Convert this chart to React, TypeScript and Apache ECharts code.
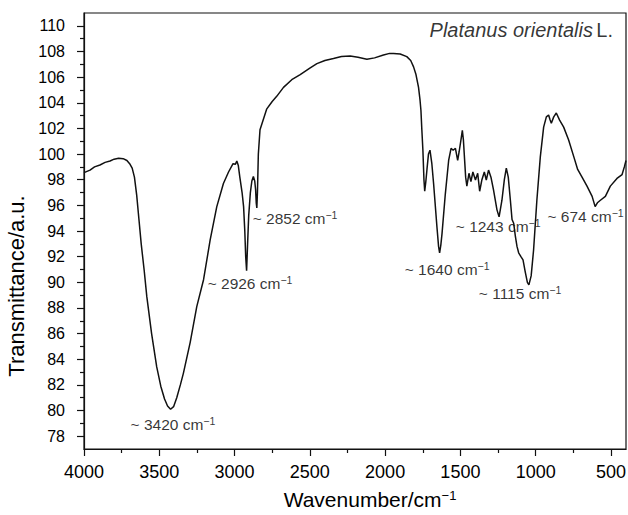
import React, { useEffect, useRef } from "react";
import * as echarts from "echarts";

// Spectrum (wavenumber in cm^-1, transmittance in a.u.)
const wavenumbers = [
  4000, 3960, 3930, 3894, 3860, 3827, 3800, 3770, 3740, 3715, 3694, 3680, 3665, 3650, 3635, 3620, 3600, 3583, 3551, 3517,
  3490, 3465, 3445, 3425, 3405, 3384, 3360, 3340, 3295, 3251, 3206, 3162, 3118, 3074, 3040, 3010, 2995, 2985, 2975, 2965,
  2950, 2940, 2932, 2926, 2920, 2914, 2906, 2895, 2885, 2875, 2866, 2860, 2856, 2852, 2848, 2842, 2831, 2809, 2787, 2750,
  2720, 2675, 2620, 2564, 2500, 2453, 2400, 2343, 2290, 2232, 2180, 2121, 2070, 2011, 1970, 1944, 1900, 1856, 1830, 1811,
  1795, 1778, 1768, 1762, 1756, 1749, 1742, 1737, 1730, 1722, 1712, 1702, 1690, 1678, 1656, 1645, 1638, 1630, 1622, 1600,
  1578, 1562, 1548, 1533, 1518, 1508, 1495, 1487, 1480, 1465, 1457, 1443, 1430, 1417, 1400, 1385, 1372, 1357, 1341, 1328,
  1313, 1297, 1280, 1257, 1243, 1224, 1208, 1195, 1182, 1168, 1157, 1146, 1135, 1124, 1113, 1098, 1084, 1069, 1055, 1045,
  1030, 1014, 992, 969, 947, 929, 914, 905, 896, 880, 863, 841, 814, 781, 747, 721, 692, 659, 625, 605,
  590, 570, 537, 504, 460, 426, 411, 400,
];
const transmittance = [
  98.55, 98.75, 99.0, 99.15, 99.35, 99.46, 99.6, 99.68, 99.64, 99.5, 99.2, 98.9, 98.2, 96.8, 94.9, 93.0, 90.9, 88.9, 86.0, 83.4,
  81.9, 80.9, 80.35, 80.1, 80.3, 81.0, 82.0, 82.9, 85.3, 88.1, 90.2, 93.3, 95.9, 97.7, 98.6, 99.25, 99.2, 99.45, 99.1, 98.2,
  97.0, 95.9, 94.0, 92.0, 90.9, 92.8, 95.2, 97.0, 97.9, 98.25, 97.9, 97.2, 96.2, 95.8, 97.0, 100.0, 101.9, 102.7, 103.5, 104.1,
  104.5, 105.2, 105.8, 106.2, 106.7, 107.05, 107.3, 107.45, 107.6, 107.65, 107.55, 107.4, 107.5, 107.72, 107.85, 107.85, 107.8, 107.6, 107.3, 106.8,
  106.2, 105.2, 104.2, 103.4, 101.9, 100.3, 98.0, 97.1, 97.8, 98.8, 100.0, 100.3, 99.3, 97.7, 94.35, 92.8, 92.3, 92.9, 93.8, 96.9,
  99.5, 100.45, 100.3, 100.45, 99.5, 100.2, 101.2, 101.85, 101.1, 98.2, 97.5, 98.5, 97.85, 98.6, 97.98, 98.5, 97.1, 98.0, 98.6, 97.98,
  98.75, 98.2, 97.2, 95.65, 95.1, 96.4, 98.0, 98.9, 98.2, 96.4, 94.9, 94.6, 93.6, 92.8, 92.3, 92.0, 91.75, 90.8, 90.0, 89.8,
  90.5, 92.5, 96.4, 99.8, 102.1, 102.9, 103.05, 102.7, 102.4, 102.9, 103.2, 102.65, 102.1, 101.1, 99.8, 98.8, 98.2, 97.5, 96.7, 95.9,
  96.2, 96.4, 96.7, 97.5, 98.1, 98.4, 99.0, 99.5,
];

// Axis ticks
const xMajorTicks = [4000, 3500, 3000, 2500, 2000, 1500, 1000, 500];
const xMinorTicks = [3750, 3250, 2750, 2250, 1750, 1250, 750];
const yMajorTicks = [78, 80, 82, 84, 86, 88, 90, 92, 94, 96, 98, 100, 102, 104, 106, 108, 110];
const yMinorTicks = [79, 81, 83, 85, 87, 89, 91, 93, 95, 97, 99, 101, 103, 105, 107, 109];

// Peak annotations (anchor = left edge of text)
const peakLabels = ["~ 3420", "~ 2926", "~ 2852", "~ 1640", "~ 1115", "~ 1243", "~ 674"];
const peakLabelX = [3694, 3182, 2883, 1873, 1381, 1534, 925];
const peakLabelY = [78.9, 89.94, 95.0, 90.97, 89.16, 94.35, 95.1];

const FONT = "'Liberation Sans', Arial, Helvetica, sans-serif";
const TEXT = "#000000";

export default function App() {
  const ref = useRef<HTMLDivElement>(null);
  useEffect(() => {
    if (!ref.current) return;
    const chart = echarts.init(ref.current, null, { renderer: "svg" });
    const lineData = wavenumbers.map((w, i) => [w, transmittance[i]]);
    const annData = peakLabels.map((t, i) => ({ value: [peakLabelX[i], peakLabelY[i]], name: t }));
    const supRich = {
      t: { fontSize: 15.5, lineHeight: 18, color: TEXT, fontFamily: FONT },
      s: { fontSize: 10.5, lineHeight: 9, verticalAlign: "top", color: TEXT, fontFamily: FONT },
    };
    const xBase = { type: "value", min: 400, max: 4000, inverse: true, gridIndex: 0 };
    const yBase = { type: "value", min: 77, max: 111, gridIndex: 0 };
    chart.setOption({
      animation: false,
      backgroundColor: "#ffffff",
      grid: {
        left: 84, right: 2, top: 13, bottom: 66,
        show: true, borderColor: "#111", borderWidth: 1.2, backgroundColor: "transparent",
        outerBoundsMode: "none", containLabel: false,
      },
      xAxis: [
        {
          ...xBase,
          position: "bottom",
          name: "Wavenumber/cm{s|−1}",
          nameLocation: "middle",
          nameGap: 40,
          nameTextStyle: {
            fontSize: 21, color: TEXT, fontFamily: FONT, padding: [0, 0, 0, 30],
            rich: {
              s: { fontSize: 13, lineHeight: 11, verticalAlign: "top", color: TEXT, fontFamily: FONT },
            },
          },
          axisLine: { show: true, onZero: false, lineStyle: { color: "#111", width: 1.2 } },
          axisTick: { show: true, length: 7, customValues: xMajorTicks, lineStyle: { color: "#111", width: 1.2 } },
          axisLabel: {
            show: true, customValues: xMajorTicks, margin: 14, fontSize: 18, color: TEXT, fontFamily: FONT,
            formatter: (v: number) => String(v),
          },
          splitLine: { show: false },
        },
        {
          ...xBase,
          position: "bottom",
          axisLine: { show: false, onZero: false },
          axisTick: { show: true, length: 4, customValues: xMinorTicks, lineStyle: { color: "#111", width: 1.2 } },
          axisLabel: { show: false },
          splitLine: { show: false },
        },
      ],
      yAxis: [
        {
          ...yBase,
          position: "left",
          name: "Transmittance/a.u.",
          nameLocation: "middle",
          nameRotate: 90,
          nameGap: 54,
          nameTextStyle: { fontSize: 22, color: TEXT, fontFamily: FONT, padding: [0, 110, 0, 0] },
          axisLine: { show: true, onZero: false, lineStyle: { color: "#111", width: 1.2 } },
          axisTick: { show: true, length: 7, customValues: yMajorTicks, lineStyle: { color: "#111", width: 1.2 } },
          axisLabel: {
            show: true, customValues: yMajorTicks, margin: 19, fontSize: 16, color: TEXT, fontFamily: FONT,
            formatter: (v: number) => String(v),
          },
          splitLine: { show: false },
        },
        {
          ...yBase,
          position: "left",
          axisLine: { show: false, onZero: false },
          axisTick: { show: true, length: 4, customValues: yMinorTicks, lineStyle: { color: "#111", width: 1.2 } },
          axisLabel: { show: false },
          splitLine: { show: false },
        },
      ],
      series: [
        {
          type: "line",
          xAxisIndex: 0,
          yAxisIndex: 0,
          data: lineData,
          showSymbol: false,
          symbol: "none",
          smooth: false,
          lineStyle: { color: "#111", width: 1.5 },
          silent: true,
        },
        {
          type: "scatter",
          xAxisIndex: 0,
          yAxisIndex: 0,
          data: annData,
          symbolSize: 1,
          itemStyle: { color: "rgba(0,0,0,0)" },
          silent: true,
          label: {
            show: true,
            position: "right",
            distance: 0,
            color: TEXT,
            formatter: (p: any) => `{t|${p.name} cm}{s|−1}`,
            rich: supRich,
          },
        },
        {
          type: "scatter",
          xAxisIndex: 0,
          yAxisIndex: 0,
          data: [{ value: [483, 109.7], name: "title" }],
          symbolSize: 1,
          itemStyle: { color: "rgba(0,0,0,0)" },
          silent: true,
          label: {
            show: true,
            position: "left",
            distance: 0,
            color: TEXT,
            formatter: () => "{i|Platanus orientalis} {n|L.}",
            rich: {
              i: { fontSize: 20, fontStyle: "italic", color: TEXT, fontFamily: FONT },
              n: { fontSize: 20, color: TEXT, fontFamily: FONT },
            },
          },
        },
      ],
    });
    return () => chart.dispose();
  }, []);
  return (
    <div
      ref={ref}
      style={{ position: "fixed", left: 0, top: 0, width: 628, height: 515, background: "#fff" }}
    />
  );
}
